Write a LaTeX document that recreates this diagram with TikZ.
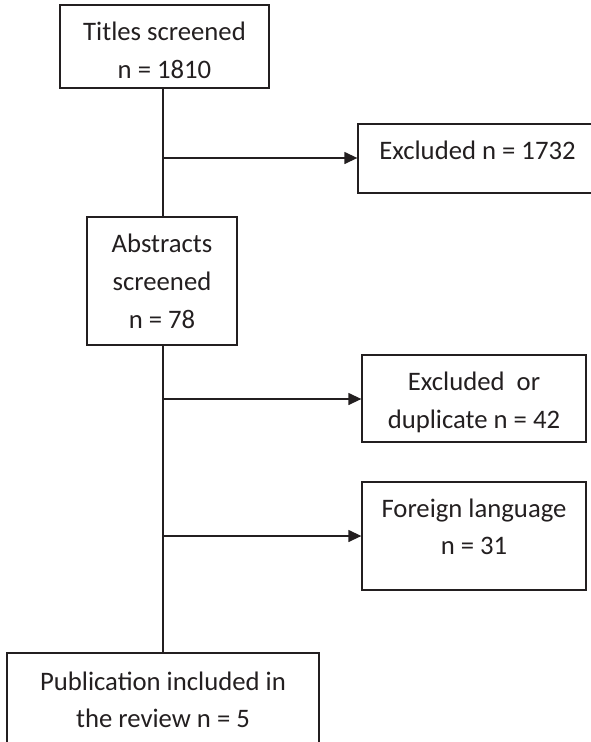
\documentclass[tikz,border=0pt]{standalone}
\usepackage{fontspec}
\setmainfont{Carlito}
\usetikzlibrary{arrows.meta}
\definecolor{ink}{HTML}{231F20}
\begin{document}
\begin{tikzpicture}[x=1pt,y=-1pt,
  box/.style={draw=ink,line width=1.3pt,rectangle,inner sep=0pt},
  txt/.style={anchor=base,inner sep=0pt,text=ink,font=\fontsize{26.7}{38}\selectfont},
  conn/.style={draw=ink,line width=1.3pt},
  arr/.style={conn,-{Triangle[length=13pt,width=12pt]}}]
\useasboundingbox (0,0) rectangle (591,742);
\clip (0,0) rectangle (591,742);
% boxes
\node[box,minimum width=209pt,minimum height=83pt] (titles) at (164.5,46.5) {};
\node[box,minimum width=240pt,minimum height=69pt] (excl1) at (478,158.5) {};
\node[box,minimum width=150pt,minimum height=128pt] (abs) at (162,281) {};
\node[box,minimum width=224pt,minimum height=87pt] (excl2) at (474,398.5) {};
\node[box,minimum width=224pt,minimum height=108pt] (foreign) at (474,536) {};
\node[box,minimum width=312pt,minimum height=120pt] (final) at (163,713) {};
% texts
\node[txt] (t1a) at (164.5,40) {Titles screened};
\node[txt] (t1b) at (164.5,78) {n = 1810};
\node[txt] (t2) at (477.5,159) {Excluded n = 1732};
\node[txt] (t3a) at (162,252) {Abstracts};
\node[txt] (t3b) at (162,290) {screened};
\node[txt] (t3c) at (162,328) {n = 78};
\node[txt] (t4a) at (474,390) {Excluded\ \ or};
\node[txt] (t4b) at (474,428) {duplicate n = 42};
\node[txt] (t5a) at (474,517) {Foreign language};
\node[txt] (t5b) at (474,554) {n = 31};
\node[txt] (t6a) at (163,690) {Publication included in};
\node[txt] (t6b) at (163,727) {the review n = 5};
% connectors
\coordinate (b1) at (163,158);
\coordinate (b2) at (163,399);
\coordinate (b3) at (163,536);
\draw[conn] (titles.south -| b1) -- (abs.north -| b1);
\draw[conn] (abs.south -| b1) -- (final.north -| b1);
\draw[arr] (b1) -- (b1 -| excl1.west);
\draw[arr] (b2) -- (b2 -| excl2.west);
\draw[arr] (b3) -- (b3 -| foreign.west);
\end{tikzpicture}
\end{document}
